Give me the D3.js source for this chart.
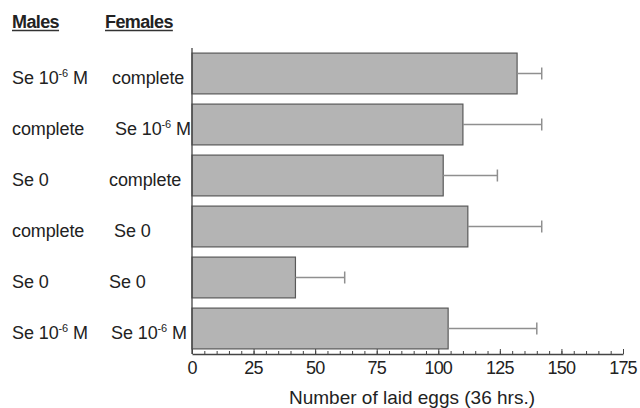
<!DOCTYPE html>
<html>
<head>
<meta charset="utf-8">
<script src="https://cdn.jsdelivr.net/npm/d3@7"></script>
<style>
  html, body { margin: 0; padding: 0; background: #fff; }
  svg { display: block; font-family: "Liberation Sans", Arial, sans-serif; }
</style>
</head>
<body>
<svg id="chart" width="640" height="408"></svg>
<script>
// ---- data ----
const males   = ["Se 10^-6 M", "complete", "Se 0", "complete", "Se 0", "Se 10^-6 M"];
const females = ["complete", "Se 10^-6 M", "complete", "Se 0", "Se 0", "Se 10^-6 M"];
const means   = [132, 110, 102, 112, 42, 104];
const sds     = [10, 32, 22, 30, 20, 36];
const xTicks  = [0, 25, 50, 75, 100, 125, 150, 175];
const xTitle  = "Number of laid eggs (36 hrs.)";
const headers = ["Males", "Females"];

const svg = d3.select("#chart");
const plotL = 192, plotR = 623, plotT = 48, plotB = 354;

const rows = d3.range(means.length);
const x = d3.scaleLinear().domain([0, 175]).range([plotL, plotR]);
const y = d3.scaleBand().domain(rows).range([plotT, plotB]).paddingInner(0.2).paddingOuter(0.1);

// bars
svg.selectAll("rect.bar").data(rows).join("rect")
  .attr("class", "bar")
  .attr("x", x(0))
  .attr("y", i => y(i))
  .attr("width", i => x(means[i]) - x(0))
  .attr("height", y.bandwidth())
  .attr("fill", "#b4b4b4")
  .attr("stroke", "#595959")
  .attr("stroke-width", 1.2);

// error bars
const eg = svg.append("g").attr("stroke", "#8f8f8f").attr("stroke-width", 1.5);
rows.forEach(i => {
  const cy = y(i) + y.bandwidth() / 2;
  eg.append("line").attr("x1", x(means[i])).attr("x2", x(means[i] + sds[i])).attr("y1", cy).attr("y2", cy);
  eg.append("line").attr("x1", x(means[i] + sds[i])).attr("x2", x(means[i] + sds[i])).attr("y1", cy - 6).attr("y2", cy + 6);
});

// y axis line
svg.append("line").attr("x1", plotL).attr("x2", plotL).attr("y1", plotT).attr("y2", plotB)
  .attr("stroke", "#444").attr("stroke-width", 1.3);

// x axis: minor ticks
const minor = d3.range(0, 176, 5);
const xAxisMinor = d3.axisTop(x).tickValues(minor).tickSize(3).tickFormat("");
const gMinor = svg.append("g").attr("transform", `translate(0,${plotB})`).call(xAxisMinor);
gMinor.select(".domain").remove();
gMinor.selectAll("line").attr("stroke", "#444");

const xAxis = d3.axisTop(x).tickValues(xTicks).tickSize(5).tickSizeOuter(0).tickFormat("");
const gx = svg.append("g").attr("transform", `translate(0,${plotB})`).call(xAxis);
gx.select(".domain").attr("stroke", "#444").attr("stroke-width", 1.3);
gx.selectAll("line").attr("stroke", "#444");

// tick labels
svg.selectAll("text.xtick").data(xTicks).join("text")
  .attr("class", "xtick")
  .attr("x", d => x(d))
  .attr("y", 374)
  .attr("text-anchor", "middle")
  .attr("font-size", 18)
  .attr("letter-spacing", -0.8)
  .attr("fill", "#222")
  .text(d => d);

svg.append("text")
  .attr("x", 412).attr("y", 404)
  .attr("text-anchor", "middle")
  .attr("font-size", 19)
  .attr("fill", "#222")
  .text(xTitle);

// headers
const headerX = [12, 105];
headers.forEach((h, k) => {
  const t = svg.append("text")
    .attr("x", headerX[k]).attr("y", 28)
    .attr("font-size", 18).attr("font-weight", "bold")
    .attr("letter-spacing", -0.6)
    .attr("fill", "#222")
    .text(h);
  const w = t.node().getComputedTextLength();
  svg.append("line").attr("x1", headerX[k]).attr("x2", headerX[k] + w)
    .attr("y1", 30.5).attr("y2", 30.5).attr("stroke", "#333").attr("stroke-width", 1.5);
});

// row labels
function drawLabel(str, xpos, ypos) {
  const t = svg.append("text").attr("x", xpos).attr("y", ypos)
    .attr("font-size", 18).attr("letter-spacing", -0.1).attr("fill", "#222");
  const m = str.match(/^(.*?)\^(-?\d+)(.*)$/);
  if (m) {
    t.append("tspan").text(m[1]);
    t.append("tspan").attr("font-size", 11).attr("dy", -7).text(m[2]);
    t.append("tspan").attr("dy", 7).text(m[3]);
  } else {
    t.text(str);
  }
}
const femX = [112, 115, 109, 114, 109, 111];
rows.forEach(i => {
  const by = y(i) + y.bandwidth() / 2 + 10;
  drawLabel(males[i], 12, by);
  drawLabel(females[i], femX[i], by);
});
</script>
</body>
</html>
